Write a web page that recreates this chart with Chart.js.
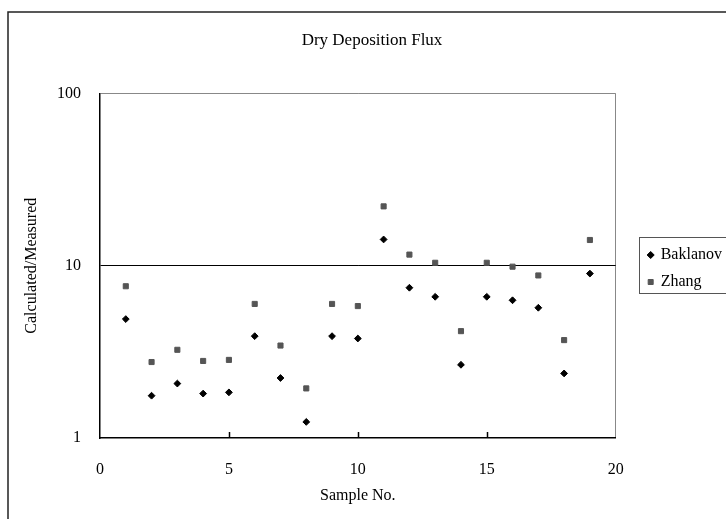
<!DOCTYPE html>
<html>
<head>
<meta charset="utf-8">
<script src="https://cdn.jsdelivr.net/npm/chart.js@4.4.0/dist/chart.umd.min.js"></script>
<style>
  html, body { margin: 0; padding: 0; background: #fff; overflow: hidden; }
  canvas { display: block; }
</style>
</head>
<body>
<canvas id="chart" width="760" height="537"></canvas>
<script>
// values
const sampleNo = [1, 2, 3, 4, 5, 6, 7, 8, 9, 10, 11, 12, 13, 14, 15, 16, 17, 18, 19];
const baklanov = [4.9, 1.76, 2.07, 1.81, 1.84, 3.9, 2.23, 1.24, 3.9, 3.78, 14.2, 7.45, 6.6, 2.66, 6.6, 6.3, 5.7, 2.37, 9.0];
const zhang = [7.6, 2.76, 3.25, 2.8, 2.84, 6.0, 3.44, 1.94, 6.0, 5.83, 22.1, 11.6, 10.4, 4.17, 10.4, 9.87, 8.78, 3.7, 14.1];
const yTicks = [1, 10, 100];
const xTicks = [0, 5, 10, 15, 20];

const FONT = "'Liberation Serif', 'Times New Roman', serif";

function toPoints(values) {
    return sampleNo.map((x, i) => ({ x: x, y: values[i] }));
}

// outer frame, inner tick marks and legend box
const framePlugin = {
    id: 'frame',
    beforeDraw(chart) {
        const ctx = chart.ctx;
        ctx.save();
        ctx.fillStyle = '#fff';
        ctx.fillRect(0, 0, chart.width, chart.height);
        ctx.strokeStyle = '#222';
        ctx.lineWidth = 1.5;
        ctx.strokeRect(8, 12, chart.width, chart.height);
        ctx.restore();
    },
    afterDraw(chart) {
        const ctx = chart.ctx;
        const xs = chart.scales.x;
        const bottom = chart.chartArea.bottom;
        ctx.save();
        ctx.strokeStyle = '#000';
        ctx.lineWidth = 1.5;
        for (const v of [5, 10, 15]) {
            const px = Math.round(xs.getPixelForValue(v)) + 0.5;
            ctx.beginPath();
            ctx.moveTo(px, bottom);
            ctx.lineTo(px, bottom - 6);
            ctx.stroke();
        }
        const lg = chart.legend;
        const hb = lg.legendHitBoxes;
        if (hb && hb.length) {
            ctx.strokeStyle = '#555';
            ctx.lineWidth = 1;
            const top = Math.round(hb[0].top - 10) + 0.5;
            const bot = Math.round(hb[hb.length - 1].top + 19) + 0.5;
            ctx.strokeRect(Math.round(lg.left + 1) + 0.5, top, 200, bot - top);
        }
        ctx.restore();
    }
};

const chart = new Chart(document.getElementById('chart'), {
    type: 'scatter',
    data: {
        datasets: [
            {
                label: 'Baklanov',
                data: toPoints(baklanov),
                pointStyle: 'rectRot',
                pointRadius: 3.4,
                borderWidth: 1,
                backgroundColor: '#000',
                borderColor: '#000'
            },
            {
                label: 'Zhang',
                data: toPoints(zhang),
                pointStyle: 'rect',
                pointRadius: 3.6,
                borderWidth: 1,
                backgroundColor: '#555',
                borderColor: '#555'
            }
        ]
    },
    options: {
        responsive: false,
        animation: false,
        layout: { padding: { left: 12, right: 28, top: 0, bottom: 0 } },
        plugins: {
            tooltip: { enabled: false },
            title: {
                display: true,
                text: 'Dry Deposition Flux',
                color: '#000',
                font: { family: FONT, size: 17, weight: 'normal' },
                padding: { top: 30, bottom: 43 }
            },
            legend: {
                position: 'right',
                labels: {
                    usePointStyle: true,
                    boxWidth: 4,
                    boxHeight: 5,
                    padding: 11,
                    color: '#000',
                    font: { family: FONT, size: 16 }
                }
            }
        },
        scales: {
            x: {
                type: 'linear',
                min: 0,
                max: 20,
                afterBuildTicks: s => { s.ticks = xTicks.map(v => ({ value: v })); },
                afterFit: s => { s.height = 99; },
                ticks: { color: '#000', padding: 22, font: { family: FONT, size: 16 } },
                grid: {
                    drawTicks: false,
                    color: c => (c.tick && c.tick.value === 20 ? '#888' : 'rgba(0,0,0,0)')
                },
                border: { color: '#000', width: 1.5 },
                title: {
                    display: true,
                    text: 'Sample No.',
                    color: '#000',
                    font: { family: FONT, size: 16 },
                    padding: { top: 0, bottom: 32 }
                }
            },
            y: {
                type: 'logarithmic',
                min: 1,
                max: 100,
                afterBuildTicks: s => { s.ticks = yTicks.map(v => ({ value: v })); },
                afterFit: s => { s.width = 88; },
                ticks: {
                    color: '#000',
                    padding: 19,
                    font: { family: FONT, size: 16 },
                    callback: v => String(v)
                },
                grid: {
                    drawTicks: false,
                    color: c => {
                        if (!c.tick) return 'rgba(0,0,0,0)';
                        if (c.tick.value === 10) return '#000';
                        if (c.tick.value === 100) return '#888';
                        return 'rgba(0,0,0,0)';
                    }
                },
                border: { color: '#000', width: 1.5 },
                title: {
                    display: true,
                    text: 'Calculated/Measured',
                    color: '#000',
                    font: { family: FONT, size: 16 },
                    padding: { top: 10, bottom: 0 }
                }
            },
            // spacer between plot and legend
            gap: {
                type: 'linear',
                position: 'right',
                display: true,
                afterFit: s => { s.width = 22; },
                ticks: { display: false },
                grid: { display: false },
                border: { display: false }
            }
        }
    },
    plugins: [framePlugin]
});
</script>
</body>
</html>
